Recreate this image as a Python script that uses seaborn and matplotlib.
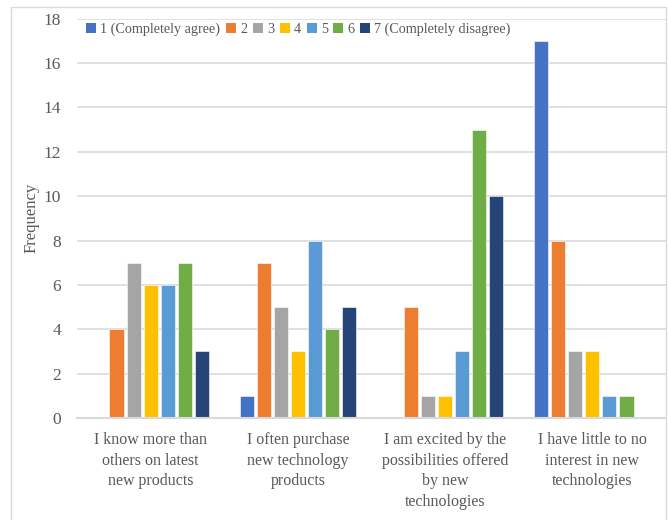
import matplotlib
matplotlib.use("Agg")
import matplotlib.pyplot as plt
import matplotlib.patches as mpatches
import seaborn as sns
import pandas as pd

categories = [
    "I know more than\nothers on latest\nnew products",
    "I often purchase\nnew technology\nproducts",
    "I am excited by the\npossibilities offered\nby new\ntechnologies",
    "I have little to no\ninterest in new\ntechnologies",
]
series_names = ["1 (Completely agree)", "2", "3", "4", "5", "6", "7 (Completely disagree)"]
s1 = [0, 1, 0, 17]
s2 = [4, 7, 5, 8]
s3 = [7, 5, 1, 3]
s4 = [6, 3, 1, 3]
s5 = [6, 8, 3, 1]
s6 = [7, 4, 13, 1]
s7 = [3, 5, 10, 0]
colors = ["#4472C4", "#ED7D31", "#A5A5A5", "#FFC000", "#5B9BD5", "#70AD47", "#264478"]

rows = []
for name, vals in zip(series_names, [s1, s2, s3, s4, s5, s6, s7]):
    for cat, v in zip(categories, vals):
        rows.append({"category": cat, "series": name, "value": v})
df = pd.DataFrame(rows)

sns.set_theme(style="white")
plt.rcParams["font.family"] = ["Liberation Serif", "DejaVu Serif"]
text_color = "#595959"

fig = plt.figure(figsize=(6.68, 5.2), dpi=100)
W, H = 668, 520
ax = fig.add_axes([77 / W, 1 - 418 / H, (666 - 77) / W, (418 - 18.7) / H])

sns.barplot(data=df, x="category", y="value", hue="series", order=categories,
            hue_order=series_names, palette=colors, saturation=1, width=0.81, gap=0.17,
            edgecolor="white", linewidth=0.4, ax=ax, legend=False)

ax.set_ylim(0, 18)
ax.set_xlim(-0.5, 3.5)
ax.set_yticks(range(0, 19, 2))
ax.yaxis.grid(True, color="#D9D9D9", linewidth=1.1)
ax.set_axisbelow(True)
for side in ["top", "right", "left"]:
    ax.spines[side].set_visible(False)
ax.spines["bottom"].set_color("#D9D9D9")
ax.spines["bottom"].set_linewidth(1.5)
ax.tick_params(axis="y", length=0, colors=text_color, labelsize=12.5, pad=11.5)
ax.tick_params(axis="x", length=0, colors=text_color, labelsize=11.5, pad=10)
ax.set_xlabel("")
ax.set_ylabel("Frequency", fontsize=12, color=text_color)
ax.yaxis.set_label_coords((40 - 77) / 589, 0.5)
for lbl in ax.get_xticklabels():
    lbl.set_linespacing(1.4)

handles = [mpatches.Patch(facecolor=c, edgecolor="none") for c in colors]
leg = ax.legend(handles, series_names, loc="center left",
                bbox_to_anchor=(86 / W, 1 - 29 / H), bbox_transform=fig.transFigure,
                ncol=7, frameon=False, handlelength=0.7, handleheight=0.7,
                handletextpad=0.3, columnspacing=0.4, fontsize=10.2,
                borderaxespad=0, borderpad=0)
for t in leg.get_texts():
    t.set_color(text_color)

# chart frame
frame = mpatches.Rectangle((11 / W, -0.01), (666 - 11) / W, (H - 7) / H + 0.01,
                           transform=fig.transFigure, fill=False,
                           edgecolor="#D9D9D9", linewidth=1.0)
fig.patches.append(frame)

fig.savefig("out.png", dpi=100, facecolor="white")
